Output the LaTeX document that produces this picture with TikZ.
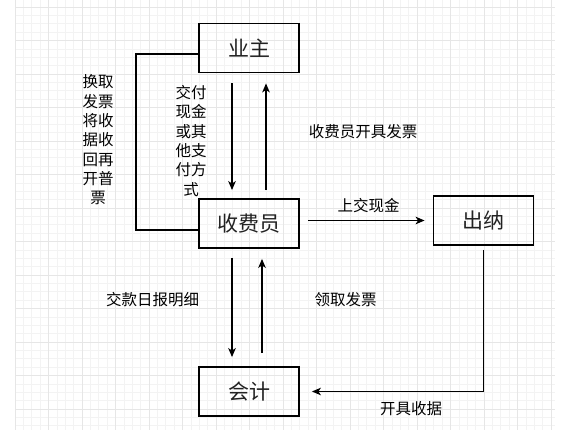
\documentclass[tikz,border=0pt]{standalone}
\usepackage{fontspec}
\setmainfont{Noto Sans CJK SC}
\usetikzlibrary{arrows.meta}
\definecolor{minorgrid}{HTML}{F3F3F3}
\definecolor{majorgrid}{HTML}{E6E6E6}
\definecolor{txt}{HTML}{222222}
\tikzset{
  box/.style={draw=black, line width=1.8pt, minimum width=100pt, minimum height=49pt, inner sep=0pt, font=\fontsize{21}{24}\selectfont, text=txt},
  lbl/.style={font=\fontsize{15.5}{19.3}\selectfont, text=black, inner sep=0pt, align=center},
  arr/.style={line width=1.6pt, -{Stealth[length=9pt,width=7.5pt,inset=2.5pt]}},
  plain/.style={line width=1.6pt}
}
\begin{document}
\begin{tikzpicture}[x=1pt,y=-1pt]
\useasboundingbox (0,0) rectangle (588,430);
\fill[white] (0,0) rectangle (588,430);
% grid
\foreach \i in {0,...,64} {
  \draw[minorgrid, line width=0.6pt] ({15+8.375*\i},0) -- ({15+8.375*\i},430);
}
\foreach \j in {-3,...,51} {
  \draw[minorgrid, line width=0.6pt] (15,{7+8.375*\j}) -- (555,{7+8.375*\j});
}
\foreach \i in {0,...,16} {
  \draw[majorgrid, line width=0.8pt] ({15+33.5*\i},0) -- ({15+33.5*\i},430);
}
\foreach \j in {0,...,12} {
  \draw[majorgrid, line width=0.8pt] (15,{7+33.5*\j}) -- (555,{7+33.5*\j});
}
% boxes
\node[box] (yz) at (249,48) {业主};
\node[box] (sfy) at (249,223.5) {收费员};
\node[box] (cn) at (483.5,220.5) {出纳};
\node[box] (kj) at (249,391.5) {会计};
% connectors
\draw[arr, shorten <=10pt, shorten >=8pt] ([xshift=-17pt]yz.south) -- ([xshift=-17pt]sfy.north);
\draw[arr, shorten <=8pt, shorten >=10pt] ([xshift=17pt]sfy.north) -- ([xshift=17pt]yz.south);
\draw[plain] ([yshift=-6.5pt]sfy.west) -- ++(-62,0) |- ([yshift=-6pt]yz.west);
\draw[arr, shorten <=8pt, shorten >=8pt] (sfy.east |- cn.west) -- (cn.west);
\draw[arr, shorten <=9pt, shorten >=9pt] ([xshift=-17pt]sfy.south) -- ([xshift=-17pt]kj.north);
\draw[arr, shorten <=13pt, shorten >=10pt] ([xshift=13pt]kj.north) -- ([xshift=13pt]sfy.south);
\draw[arr, shorten <=4pt, shorten >=12pt] (cn.south) |- (kj.east);
% labels
\node[lbl] (l1) at (191,141) {交付\\现金\\或其\\他支\\付方\\式};
\node[lbl] (l2) at (98,140) {换取\\发票\\将收\\据收\\回再\\开普\\票};
\node[lbl] (l3) at (363,132) {收费员开具发票};
\node[lbl] (l4) at (368.5,206) {上交现金};
\node[lbl] (l5) at (152.5,300) {交款日报明细};
\node[lbl] (l6) at (345.5,300) {领取发票};
\node[lbl] (l7) at (411,409) {开具收据};
\end{tikzpicture}
\end{document}
